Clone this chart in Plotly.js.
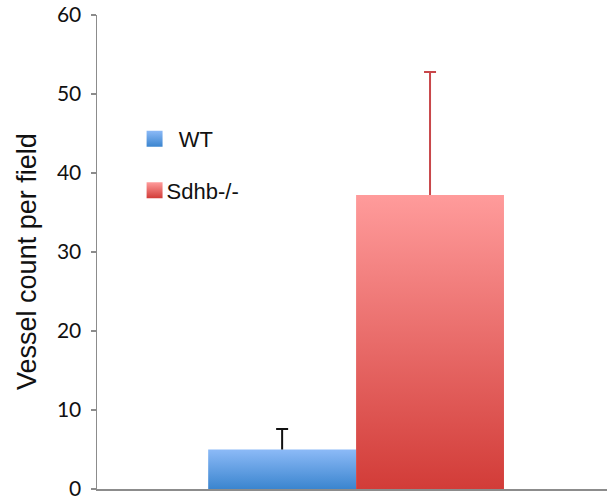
<!DOCTYPE html>
<html>
<head>
<meta charset="utf-8">
<script src="https://cdn.plot.ly/plotly-3.0.1.min.js"></script>
<style>html,body{margin:0;padding:0;background:#fff;}#chart{width:614px;height:498px;}</style>
</head>
<body>
<div id="chart"></div>
<script>
// Data
const category = [""];
const seriesNames = ["WT", "Sdhb-/-"];
const wtValues = [5.0];
const wtErrPlus = [2.6];
const sdhbValues = [37.2];
const sdhbErrPlus = [15.6];
const yTickVals = [0, 10, 20, 30, 40, 50, 60];
const yTitle = "Vessel count per field";

const axisGray = "#8c8c8c";

const traces = [
  {
    type: "bar", name: "\u00a0\u00a0" + seriesNames[0], x: category, y: wtValues,
    legendgroup: "a",
    marker: {color: "#62a0e6", line: {width: 0}},
    error_y: {type: "data", array: wtErrPlus, arrayminus: [0], symmetric: false,
              color: "#111111", thickness: 2, width: 6}
  },
  {
    type: "bar", name: seriesNames[1], x: category, y: sdhbValues,
    legendgroup: "b",
    marker: {color: "#e96b69", line: {width: 0}},
    error_y: {type: "data", array: sdhbErrPlus, arrayminus: [0], symmetric: false,
              color: "#c8474a", thickness: 2, width: 6}
  }
];

const layout = {
  width: 614, height: 498,
  margin: {l: 97, r: 7, t: 15, b: 9},
  paper_bgcolor: "#ffffff", plot_bgcolor: "#ffffff",
  barmode: "group", bargap: 0.42, bargroupgap: 0,
  showlegend: true,
  legend: {
    x: 0.058, y: 0.783, xanchor: "left", yanchor: "top",
    traceorder: "grouped", tracegroupgap: 20,
    font: {family: "Liberation Sans, Arial, sans-serif", size: 22, color: "#111"},
    bgcolor: "rgba(0,0,0,0)"
  },
  xaxis: {
    range: [-0.508, 0.492], showticklabels: false, ticks: "",
    showline: true, linecolor: axisGray, linewidth: 2, showgrid: false, zeroline: false,
    fixedrange: true
  },
  yaxis: {
    range: [0, 60], tickvals: yTickVals, ticktext: yTickVals.map(String),
    ticks: "outside", ticklen: 5, tickwidth: 1.5, tickcolor: axisGray,
    showline: true, linecolor: axisGray, linewidth: 1.5, showgrid: false, zeroline: false,
    tickfont: {family: "Lato, Open Sans, sans-serif", size: 21, color: "#111"},
    ticklabelstandoff: 5, ticklabeloverflow: "allow"
  },
  annotations: [{
    text: yTitle, textangle: -90, xref: "paper", yref: "paper",
    x: 0, y: 0.479, xanchor: "center", yanchor: "middle", xshift: -70, showarrow: false,
    font: {family: "Liberation Sans, Arial, sans-serif", size: 27, color: "#111"}
  }]
};

Plotly.newPlot("chart", traces, layout, {displayModeBar: false, staticPlot: true}).then(function (gd) {
  const svgNS = "http://www.w3.org/2000/svg";
  const defs = gd.querySelector(".main-svg defs");
  function addGrad(id, top, bottom) {
    const g = document.createElementNS(svgNS, "linearGradient");
    g.setAttribute("id", id);
    g.setAttribute("x1", "0"); g.setAttribute("y1", "0");
    g.setAttribute("x2", "0"); g.setAttribute("y2", "1");
    [[0, top], [1, bottom]].forEach(function (s) {
      const st = document.createElementNS(svgNS, "stop");
      st.setAttribute("offset", s[0]);
      st.setAttribute("stop-color", s[1]);
      g.appendChild(st);
    });
    defs.appendChild(g);
  }
  addGrad("gradWT", "#8cbaf7", "#3b85cf");
  addGrad("gradKO", "#ff9b9b", "#d23c38");
  const ids = ["gradWT", "gradKO"];
  gd.querySelectorAll(".barlayer .trace").forEach(function (t, i) {
    t.querySelectorAll(".point path").forEach(function (p) { p.style.fill = "url(#" + ids[i] + ")"; });
  });
  gd.querySelectorAll(".legend .traces").forEach(function (t, i) {
    t.querySelectorAll(".legendpoints path").forEach(function (p) {
      p.style.fill = "url(#" + ids[i] + ")";
      const prev = p.getAttribute("transform") || "";
      p.setAttribute("transform", (prev + " translate(8,0) scale(1.33)").trim());
    });
  });
  // only the upper whisker is shown in the reference: drop the lower cap
  gd.querySelectorAll(".errorbar path.yerror").forEach(function (p) {
    const d = p.getAttribute("d") || "";
    p.setAttribute("d", d.replace(/m-?[\d.]+,0h-?[\d.]+\s*$/, ""));
  });
});
</script>
</body>
</html>
